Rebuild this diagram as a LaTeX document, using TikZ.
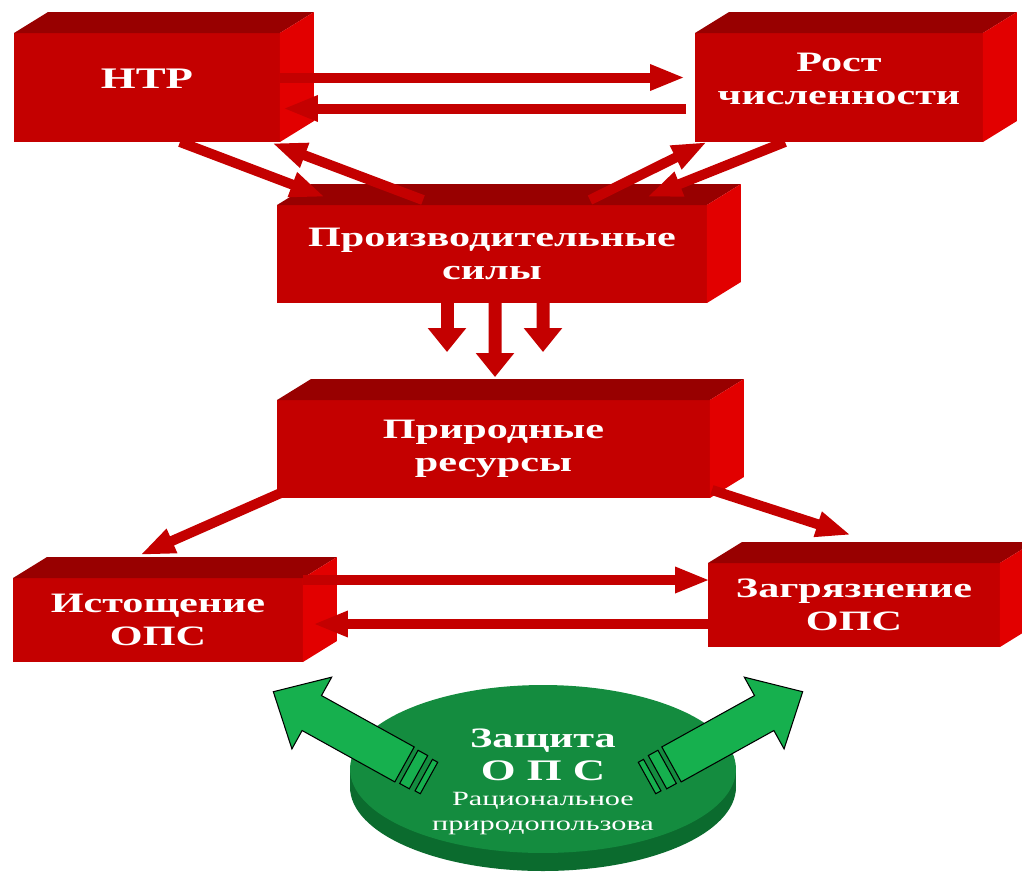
\documentclass[tikz,border=0pt]{standalone}
\usepackage{fontspec}
\newfontfamily\slabfont[FakeStretch=1.5]{Liberation Serif}
\usetikzlibrary{arrows.meta,calc,shapes.geometric}

\definecolor{slabfront}{HTML}{C40000}
\definecolor{slabtop}{HTML}{980000}
\definecolor{slabside}{HTML}{E20000}
\definecolor{disktop}{HTML}{148C3F}
\definecolor{diskrim}{HTML}{0B6B2E}
\definecolor{arrowgreen}{HTML}{16B04E}

\tikzset{
  slab/.style={fill=slabfront, text=white, inner sep=0pt, outer sep=0pt, align=center,
    font=\slabfont\bfseries\fontsize{16}{18.7}\selectfont},
  fat/.style={draw=slabfront, line width=0.2cm, -{Triangle[length=0.7cm,width=0.48cm]}},
  downfat/.style={draw=slabfront, line width=0.26cm, -{Triangle[length=0.48cm,width=0.74cm]}},
  disk/.style={ellipse, fill=disktop, inner sep=0pt, minimum width=7.72cm, minimum height=3.36cm},
  disktext/.style={text=white, align=center, font=\slabfont\fontsize{11.5}{14.2}\selectfont},
  pointer/.style={fill=arrowgreen, draw=black, line width=0.6pt, line join=miter},
}

\begin{document}
\begin{tikzpicture}[x=0.02cm, y=-0.02cm]
\useasboundingbox (0,0) rectangle (1022,880);
\clip (0,0) rectangle (1022,880);

\node[slab, minimum width=5.32cm, minimum height=2.18cm, text depth=0.36cm, font=\slabfont\bfseries\fontsize{17}{20}\selectfont] (ntr) at (147,87.5) {НТР};
\node[slab, minimum width=5.76cm, minimum height=2.18cm, text depth=0.36cm] (rost) at (839,87.5) {Рост\\численности};
\node[slab, minimum width=8.6cm, minimum height=1.96cm] (proizv) at (492,254) {Производительные\\силы};
\node[slab, minimum width=8.66cm, minimum height=1.96cm] (prirod) at (493.5,449) {Природные\\ресурсы};
\node[slab, minimum width=5.8cm, minimum height=1.68cm] (istosh) at (158,620) {Истощение\\ОПС};
\node[slab, minimum width=5.84cm, minimum height=1.68cm] (zagr) at (854,605) {Загрязнение\\ОПС};

% top and side faces of the slabs
\foreach \b in {ntr,rost,proizv,prirod,istosh,zagr} {
  \fill[slabtop] (\b.north west) -- ++(34,-21) -- ($(\b.north east)+(34,-21)$) -- (\b.north east) -- cycle;
  \fill[slabside] (\b.north east) -- ++(34,-21) -- ($(\b.south east)+(34,-21)$) -- (\b.south east) -- cycle;
}

\draw[fat] ($(ntr.east)+(0,-10)$) -- ($(rost.west)+(-10,-10)$);
\draw[fat] ($(rost.west)+(-9,21)$) -- ($(ntr.east)+(3,21)$);
\draw[fat] ($(proizv.north)+(-69,-5)$) -- ($(ntr.south east)+(-8,1)$);
\draw[fat] ($(ntr.south)+(33,0)$) -- ($(proizv.north west)+(48,-8)$);
\draw[fat] ($(proizv.north)+(98,-5)$) -- ($(rost.south west)+(12,0)$);
\draw[fat] ($(rost.south west)+(90,0)$) -- ($(proizv.north east)+(-60,-8)$);

\draw[downfat] ($(proizv.south)+(-45,0)$) -- ($(prirod.north)+(-46.5,-48)$);
\draw[downfat] ($(proizv.south)+(3,0)$) -- ($(prirod.north)+(1.5,-23)$);
\draw[downfat] ($(proizv.south)+(51,0)$) -- ($(prirod.north)+(49.5,-48)$);

\draw[fat] ($(prirod.south west)+(6,-6)$) -- ($(istosh.north)+(-18,-23)$);
\draw[fat] ($(prirod.south east)+(2,-8)$) -- ($(zagr.north)+(-3,-28)$);
\draw[fat] ($(istosh.east)+(0,-40)$) -- ($(zagr.west)+(2,-25)$);
\draw[fat] ($(zagr.west)+(0,19)$) -- ($(istosh.east)+(10,4)$);

% green disk
\fill[diskrim] (543,787) ellipse [x radius=193, y radius=84];
\fill[diskrim] (350,769) rectangle (736,787);
\node[disk] (ops) at (543,769) {};

\begin{scope}[shift={($(ops.center)+(-114,9)$)}, rotate=151]
  \draw[pointer] (28,-20) -- (134,-20) -- (134,-41) -- (178,0) -- (134,41) -- (134,20) -- (28,20) -- cycle;
  \draw[pointer] (12,-19) rectangle (23,19);
  \draw[pointer] (0,-18) rectangle (6,18);
\end{scope}
\begin{scope}[shift={($(ops.center)+(104,9)$)}, rotate=29]
  \draw[pointer] (28,-20) -- (134,-20) -- (134,-41) -- (178,0) -- (134,41) -- (134,20) -- (28,20) -- cycle;
  \draw[pointer] (12,-19) rectangle (23,19);
  \draw[pointer] (0,-18) rectangle (6,18);
\end{scope}

\node[disktext] (opsnote) at ($(ops.center)+(0,13)$) {{\fontsize{16}{18.7}\selectfont\bfseries Защита}\\[4.5pt]{\fontsize{17}{18.7}\selectfont\bfseries О П С}\\Рациональное\\природопользова};
\end{tikzpicture}
\end{document}
